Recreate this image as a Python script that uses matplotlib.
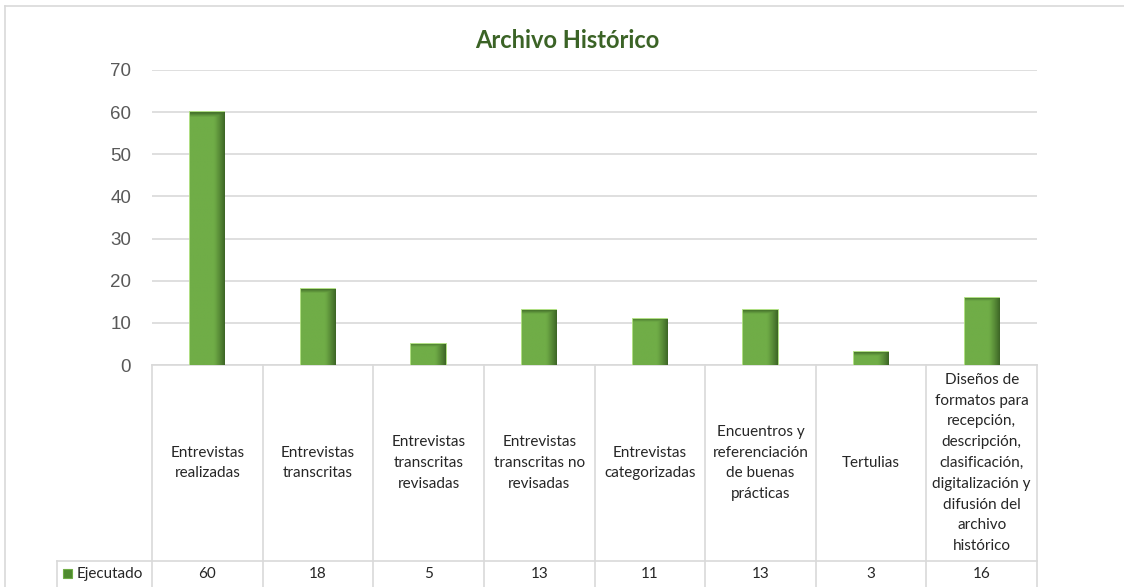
import matplotlib.pyplot as plt
import matplotlib.transforms as mtransforms
import numpy as np
from matplotlib.colors import LinearSegmentedColormap

# Data
categories = [
    "Entrevistas\nrealizadas",
    "Entrevistas\ntranscritas",
    "Entrevistas\ntranscritas\nrevisadas",
    "Entrevistas\ntranscritas no\nrevisadas",
    "Entrevistas\ncategorizadas",
    "Encuentros y\nreferenciación\nde buenas\nprácticas",
    "Tertulias",
    "Diseños de\nformatos para\nrecepción,\ndescripción,\nclasificación,\ndigitalización y\ndifusión del\narchivo\nhistórico",
]
ejecutado = [60, 18, 5, 13, 11, 13, 3, 16]
series_name = "Ejecutado"
title = "Archivo Histórico"
yticks = [0, 10, 20, 30, 40, 50, 60, 70]

W, H = 1124, 587
fig = plt.figure(figsize=(W / 100, H / 100), dpi=100)
ax = fig.add_axes([152 / W, (H - 365) / H, (1037 - 152) / W, 295 / H])

grid_col = "#d9d9d9"
text_col = "#595959"
bar_col = "#70ad47"
edge_col = "#a9dc78"

x = np.arange(len(categories))
bars = ax.bar(x, ejecutado, width=0.31, color=bar_col, edgecolor=edge_col,
              linewidth=1.3, zorder=3)

# shading inside bars (darker right side / top)
cmap = LinearSegmentedColormap.from_list("shade", [bar_col, "#3d6626"])
for b in bars:
    x0, y0 = b.get_x(), b.get_y()
    w, h = b.get_width(), b.get_height()
    gx = np.linspace(0, 1, 60)
    gy = np.linspace(0, 1, 120)
    hx = np.clip((gx - 0.68) / 0.32, 0, 1) ** 1.2
    top_frac = min(1.0, 0.9 / h)
    hy = np.clip((gy - (1 - top_frac)) / top_frac, 0, 1) * 0.8
    img = np.maximum(hx[None, :], hy[:, None])
    im = ax.imshow(img, cmap=cmap, vmin=0, vmax=1, origin="lower",
                   extent=[x0, x0 + w, y0, y0 + h], aspect="auto",
                   interpolation="bilinear", zorder=3.5)
    im.set_clip_path(b)

ax.set_xlim(-0.5, len(categories) - 0.5)
ax.set_ylim(0, 70)
ax.set_yticks(yticks)
ax.yaxis.grid(True, color=grid_col, linewidth=1.2)
ax.set_axisbelow(True)
ax.tick_params(axis="y", length=0, pad=15, labelsize=13.5, labelcolor=text_col)
ax.tick_params(axis="x", length=0, labelbottom=False)
for lab in ax.get_yticklabels():
    lab.set_fontfamily("Liberation Sans")
for s in ax.spines.values():
    s.set_visible(False)

fig.text(567 / W, (H - 40) / H, title, ha="center", va="center",
         fontsize=17, fontweight="bold", color="#3b6326", family="Lato")

# data table under the axis
trans = mtransforms.blended_transform_factory(ax.transData, fig.transFigure)
y_top = (H - 365) / H
y_mid = (H - 561) / H
for i in range(len(categories) + 1):
    ax.plot([i - 0.5, i - 0.5], [y_top, 0], transform=trans, color=grid_col,
            linewidth=1.2, clip_on=False)
ax.plot([-0.5, len(categories) - 0.5], [y_top, y_top], transform=trans,
        color=grid_col, linewidth=1.2, clip_on=False)
fig.add_artist(plt.Line2D([57 / W, 1037 / W], [y_mid, y_mid], color=grid_col,
                          linewidth=1.2))
fig.add_artist(plt.Line2D([57 / W, 57 / W], [y_mid, 0], color=grid_col,
                          linewidth=1.2))

for i, (cat, v) in enumerate(zip(categories, ejecutado)):
    ax.text(i, (H - 463) / H, cat, transform=trans, ha="center", va="center",
            fontsize=11, linespacing=1.62, color="#262626", family="Lato")
    ax.text(i, (H - 574) / H, str(v), transform=trans, ha="center",
            va="center", fontsize=11, color="#262626", family="Lato")

fig.add_artist(plt.Rectangle((63 / W, (H - 578) / H), 9 / W, 9 / H,
                             facecolor="#4e8a2e", edgecolor="#70ad47",
                             linewidth=0.8))
fig.text(77 / W, (H - 574) / H, series_name, ha="left", va="center",
         fontsize=11, color="#262626", family="Lato")

# chart border
fig.add_artist(plt.Line2D([5 / W, 1], [(H - 6) / H, (H - 6) / H],
                          color=grid_col, linewidth=1.2))
fig.add_artist(plt.Line2D([5 / W, 5 / W], [(H - 6) / H, 0],
                          color=grid_col, linewidth=1.2))

fig.savefig("out.png", dpi=100)
